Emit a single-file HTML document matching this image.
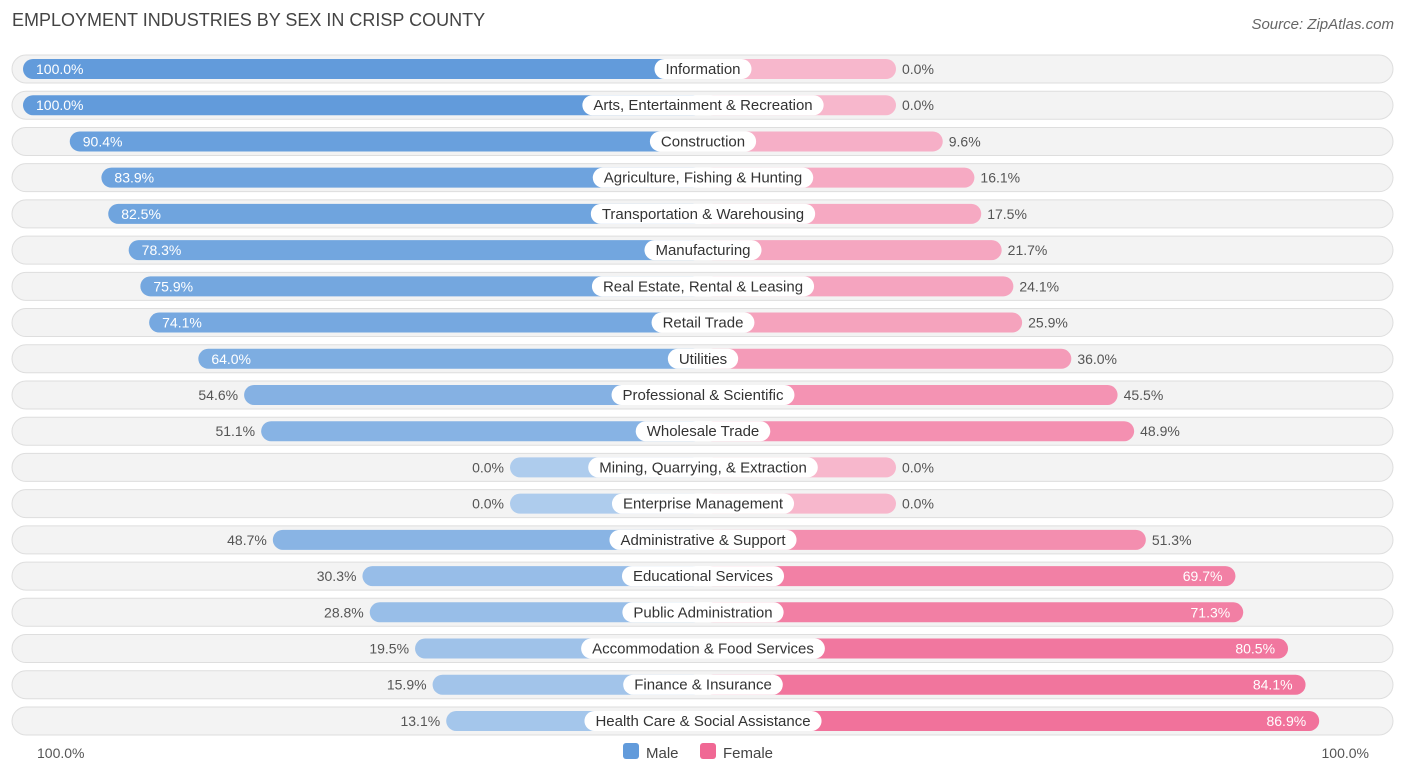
<!DOCTYPE html>
<html><head><meta charset="utf-8"><style>
body{margin:0;width:1406px;height:776px;background:#fff;font-family:"Liberation Sans",sans-serif;overflow:hidden;position:relative}
.t{position:absolute;left:12px;top:10px;font-size:18px;color:#444}
.src{position:absolute;right:12px;top:16px;font-size:15px;color:#666;font-style:italic}
svg{position:absolute;left:0;top:0}
</style></head><body>
<div class="t">EMPLOYMENT INDUSTRIES BY SEX IN CRISP COUNTY</div>
<div class="src">Source: ZipAtlas.com</div>
<svg id="c" width="1406" height="776"></svg>
<script>
const categories=["Information","Arts, Entertainment & Recreation","Construction","Agriculture, Fishing & Hunting","Transportation & Warehousing","Manufacturing","Real Estate, Rental & Leasing","Retail Trade","Utilities","Professional & Scientific","Wholesale Trade","Mining, Quarrying, & Extraction","Enterprise Management","Administrative & Support","Educational Services","Public Administration","Accommodation & Food Services","Finance & Insurance","Health Care & Social Assistance"];
const maleValues=[100,100,90.4,83.9,82.5,78.3,75.9,74.1,64.0,54.6,51.1,0,0,48.7,30.3,28.8,19.5,15.9,13.1];
const femaleValues=[0,0,9.6,16.1,17.5,21.7,24.1,25.9,36.0,45.5,48.9,0,0,51.3,69.7,71.3,80.5,84.1,86.9];
const axisLabels=["100.0%","100.0%"];
const NS="http://www.w3.org/2000/svg",svg=document.getElementById('c');
const cx=703,y0=69,step=36.22;
function len(v){return 193+4.87*v;}
function yOf(i){return y0+i*step;}
function mix(a,b,t){return 'rgb('+a.map((x,k)=>Math.round(x+(b[k]-x)*t)).join(',')+')';}
function el(tag,attrs,parent){const e=document.createElementNS(NS,tag);for(const k in attrs)e.setAttribute(k,attrs[k]);(parent||svg).appendChild(e);return e;}
categories.forEach((cat,i)=>{
  const y=yOf(i),g=el('g',{});
  
  
  const bg=el('rect',{x:12,y:y-14,width:1381,height:28,rx:14,fill:'#f3f3f3',stroke:'#dedede','stroke-width':1},g);
  
  
  const m=maleValues[i],f=femaleValues[i];
  const ml=len(m),fl=len(f);
  const mb=el('rect',{x:cx-ml,y:y-10,width:ml,height:20,rx:10,fill:mix([174,204,237],[98,155,219],m/100)},g);
  
  
  const fb=el('rect',{x:cx,y:y-10,width:fl,height:20,rx:10,fill:mix([247,183,204],[240,104,148],f/100)},g);
  
  
  const mIn=m>=60;
  const mt=el('text',{x:mIn?cx-ml+13:cx-ml-6,y:y+5,'font-size':14,fill:mIn?'#fff':'#555','text-anchor':mIn?'start':'end'},g);
  mt.textContent=m.toFixed(1)+'%';
  
  
  const fIn=f>=60;
  const ft=el('text',{x:fIn?cx+fl-13:cx+fl+6,y:y+5,'font-size':14,fill:fIn?'#fff':'#555','text-anchor':fIn?'end':'start'},g);
  ft.textContent=f.toFixed(1)+'%';
  
  
  const lt=el('text',{x:cx,y:y+5,'font-size':15,fill:'#333','text-anchor':'middle'},g);
  lt.textContent=cat;
  const w=lt.getComputedTextLength()+22;
  const pill=el('rect',{x:cx-w/2,y:y-10,width:w,height:20,rx:10,fill:'#fff'},g);
  g.insertBefore(pill,lt);
  
  
  
  
});
const a1=el('text',{x:37,y:758,'font-size':14,fill:'#555'});a1.textContent=axisLabels[0];


const a2=el('text',{x:1369,y:758,'font-size':14,fill:'#555','text-anchor':'end'});a2.textContent=axisLabels[1];


const lm=el('rect',{x:623,y:743,width:16,height:16,rx:3,fill:'#629bdb'});


const lmt=el('text',{x:646,y:758,'font-size':15,fill:'#444'});lmt.textContent='Male';


const lf=el('rect',{x:700,y:743,width:16,height:16,rx:3,fill:'#f06894'});


const lft=el('text',{x:723,y:758,'font-size':15,fill:'#444'});lft.textContent='Female';


</script>
</body></html>
